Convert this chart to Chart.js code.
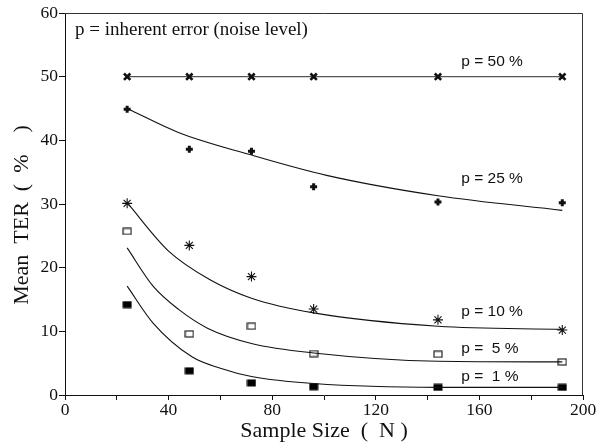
<!DOCTYPE html>
<html>
<head>
<meta charset="utf-8">
<script src="https://cdn.jsdelivr.net/npm/chart.js@4.4.1/dist/chart.umd.min.js"></script>
<style>
    html, body { margin: 0; padding: 0; background: #fff; }
    #wrap { width: 599px; height: 442px; }
</style>
</head>
<body>
<div id="wrap"><canvas id="grafico"></canvas></div>
<script>
// measured points
const sampleSizes = [24, 48, 72, 96, 144, 192];
const ter50 = [50, 50, 50, 50, 50, 50];
const ter25 = [44.9, 38.6, 38.3, 32.7, 30.3, 30.2];
const ter10 = [30.1, 23.5, 18.6, 13.5, 11.8, 10.2];
const ter5 = [25.7, 9.6, 10.8, 6.5, 6.4, 5.2];
const ter1 = [14.2, 3.8, 1.9, 1.3, 1.2, 1.2];

// fitted curves
const fit25N = [24, 44, 71, 101, 144, 192];
const fit25 = [45.0, 41.2, 37.8, 34.5, 31.3, 29.0];
const fit10N = [24, 40, 56, 72, 96, 144, 192];
const fit10 = [30.2, 22.6, 18.1, 15.2, 12.9, 10.8, 10.3];
const fit5N = [24, 34, 44, 55, 72, 96, 144, 192];
const fit5 = [23.1, 17.1, 13.4, 10.5, 8.1, 6.6, 5.3, 5.2];
const fit1N = [24, 34, 49, 60, 72, 96, 144, 192];
const fit1 = [17.1, 11.3, 6.0, 4.2, 2.9, 1.8, 1.2, 1.2];

const xTicks = [0, 40, 80, 120, 160, 200];
const serieLabels = ['p = 50 %', 'p = 25 %', 'p = 10 %', 'p =  5 %', 'p =  1 %'];

const toPoints = (xs, ys) => xs.map((x, i) => ({ x: x, y: ys[i] }));

const makeBox = (filled) => {
    const c = document.createElement('canvas');
    c.width = 10;
    c.height = 8;
    const ctx = c.getContext('2d');
    if (filled) {
        ctx.fillStyle = '#000';
        ctx.fillRect(0.5, 0.5, 9, 7);
    } else {
        ctx.fillStyle = '#fff';
        ctx.fillRect(1, 1, 8, 6);
        ctx.strokeStyle = '#222';
        ctx.lineWidth = 1.2;
        ctx.strokeRect(1, 1, 8, 6);
    }
    return c;
};

const curva = (xs, ys) => ({
    data: toPoints(xs, ys),
    showLine: true,
    borderColor: '#111',
    borderWidth: 1.1,
    pointRadius: 0,
    cubicInterpolationMode: 'monotone',
});

const marcas = (ys, style, radius, width) => ({
    data: toPoints(sampleSizes, ys),
    showLine: false,
    pointStyle: style,
    pointRadius: radius,
    pointBorderWidth: width,
    pointBorderColor: '#111',
    pointBackgroundColor: '#111',
});

const caixa = {
    id: 'caixa',
    afterDraw(chart) {
        const { ctx, chartArea: a } = chart;
        ctx.save();
        ctx.strokeStyle = '#333';
        ctx.lineWidth = 1;
        ctx.beginPath();
        ctx.moveTo(a.left, a.top + 0.5);
        ctx.lineTo(a.right - 0.5, a.top + 0.5);
        ctx.lineTo(a.right - 0.5, a.bottom);
        ctx.stroke();
        ctx.restore();
    }
};

const rotulos = {
    id: 'rotulos',
    afterDatasetsDraw(chart) {
        const { ctx, scales } = chart;
        const xs = scales.x, ys = scales.y;
        ctx.save();
        ctx.fillStyle = '#111';
        ctx.textBaseline = 'middle';
        ctx.textAlign = 'left';
        ctx.font = '19px "Liberation Serif"';
        ctx.fillText('p = inherent error (noise level)', xs.getPixelForValue(3.9), ys.getPixelForValue(57.4));
        ctx.font = '15.5px "Liberation Sans"';
        const pos = [52.4, 33.9, 13.1, 7.3, 2.9];
        serieLabels.forEach((t, i) => {
            ctx.fillText(t, xs.getPixelForValue(153), ys.getPixelForValue(pos[i]));
        });
        ctx.restore();
    }
};

const serif = (size) => ({ family: '"Liberation Serif"', size: size });

new Chart(document.getElementById('grafico'), {
    type: 'scatter',
    data: {
        datasets: [
            curva(fit25N, fit25),
            curva(fit10N, fit10),
            curva(fit5N, fit5),
            curva(fit1N, fit1),
            {
                data: toPoints(sampleSizes, ter50),
                showLine: true,
                borderColor: '#555',
                borderWidth: 1.3,
                pointStyle: 'crossRot',
                pointRadius: 4.5,
                pointBorderWidth: 2.6,
                pointBorderColor: '#111',
            },
            marcas(ter25, 'cross', 3.5, 3),
            marcas(ter10, 'star', 5, 1.1),
            marcas(ter5, makeBox(false), 5, 1),
            marcas(ter1, makeBox(true), 5, 1),
        ]
    },
    options: {
        responsive: true,
        maintainAspectRatio: false,
        animation: false,
        layout: { padding: { top: 13, right: 16, left: 0, bottom: 0 } },
        plugins: {
            legend: { display: false },
            tooltip: { enabled: false },
        },
        scales: {
            x: {
                type: 'linear',
                min: 0,
                max: 200,
                afterFit: (s) => { s.height = 47; },
                ticks: {
                    stepSize: 20,
                    color: '#111',
                    font: serif(17.5),
                    padding: 0,
                    maxRotation: 0,
                    autoSkip: false,
                    callback: (v) => xTicks.includes(v) ? v : '',
                },
                grid: { drawOnChartArea: false, color: '#111', tickLength: 5 },
                border: { color: '#111', width: 1 },
                title: {
                    display: true,
                    text: 'Sample Size  (  N )',
                    color: '#111',
                    font: serif(22),
                    padding: { top: 0, bottom: -2 },
                },
            },
            y: {
                min: 0,
                max: 60,
                afterFit: (s) => { s.width = 65; },
                ticks: {
                    stepSize: 10,
                    color: '#111',
                    font: serif(17.5),
                    padding: 1,
                },
                grid: { drawOnChartArea: false, color: '#111', tickLength: 6 },
                border: { color: '#111', width: 1 },
                title: {
                    display: true,
                    text: 'Mean  TER  (  %    )    ',
                    color: '#111',
                    font: serif(22),
                    padding: { top: 9, bottom: 0 },
                },
            }
        }
    },
    plugins: [caixa, rotulos]
});
</script>
</body>
</html>
